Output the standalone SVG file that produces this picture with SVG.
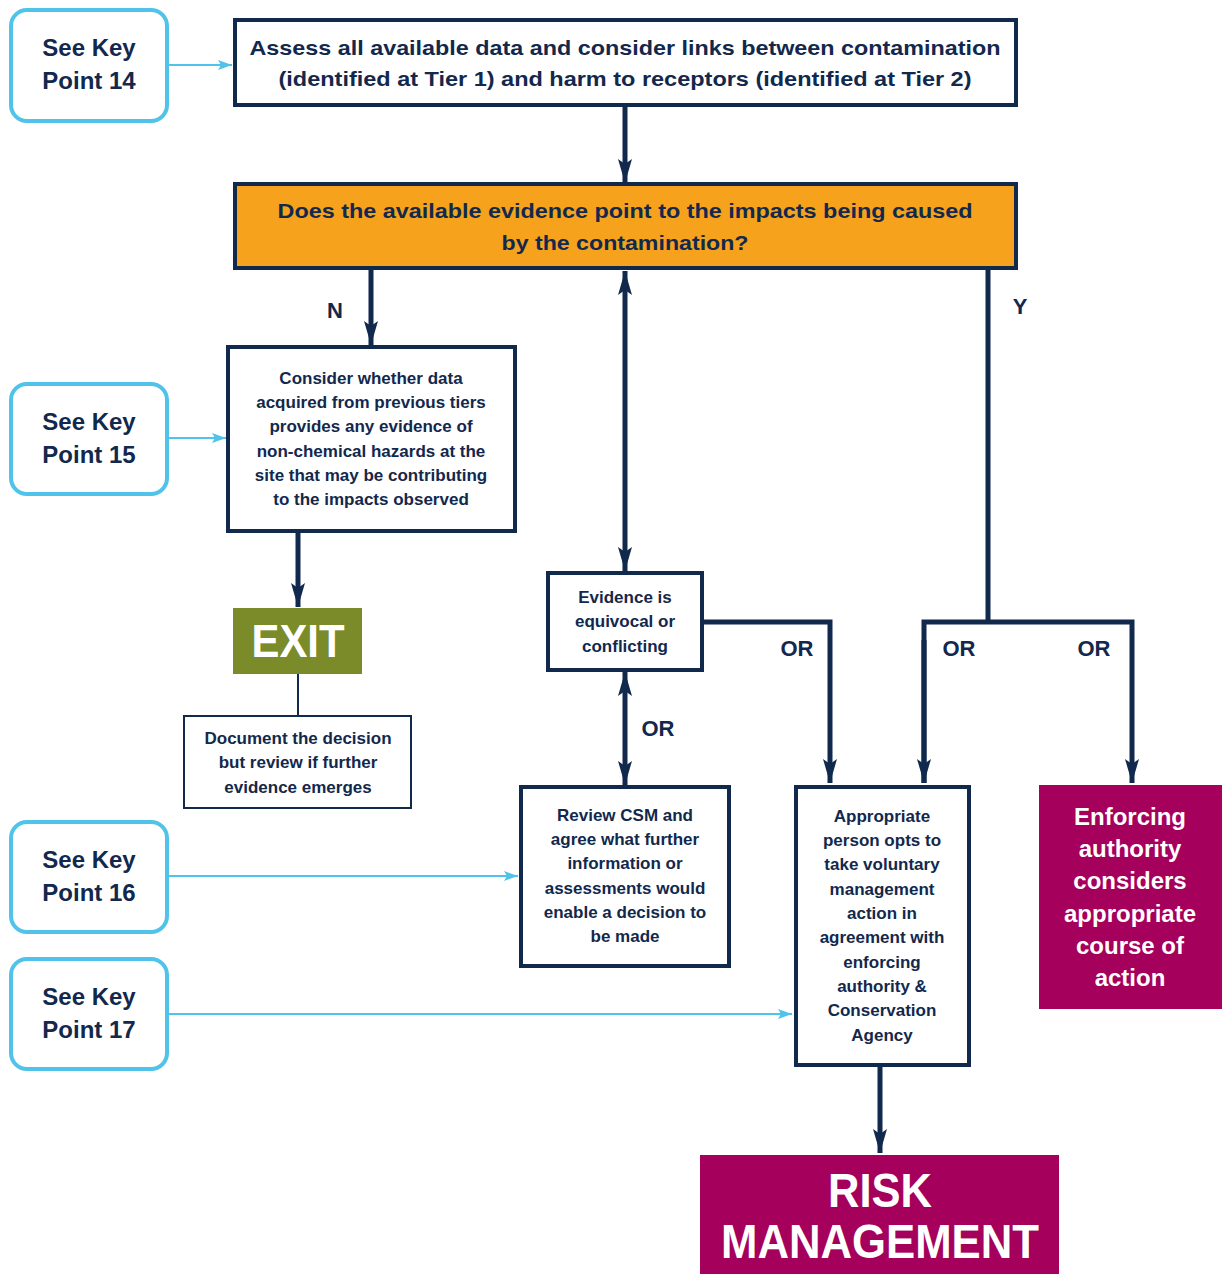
<svg xmlns="http://www.w3.org/2000/svg" width="1227" height="1274" viewBox="0 0 1227 1274">
<style>
text{font-family:"Liberation Sans","Noto Sans",sans-serif;font-weight:bold;text-anchor:middle;dominant-baseline:central;fill:#12284c}
.kp rect{fill:#fff;stroke:#4fc3e9;stroke-width:4}
.kp text{font-size:24px}
.box{fill:#fff;stroke:#10294d;stroke-width:4}
.thin{fill:#fff;stroke:#10294d;stroke-width:2}
.t22{font-size:21px}
.t18{font-size:17px}
.lbl{font-size:22px}
.w{fill:#fff}
.nav{stroke:#10294d;stroke-width:5;fill:none}
.cy{stroke:#4fc3e9;stroke-width:2;fill:none}
</style>
<defs>
<marker id="ah" viewBox="0 0 24 14" refX="24" refY="7" markerWidth="24" markerHeight="14" markerUnits="userSpaceOnUse" orient="auto-start-reverse">
<path d="M0,0 L24,7 L0,14 L5,7 z" fill="#10294d"/>
</marker>
<marker id="ac" viewBox="0 0 14 10" refX="14" refY="5" markerWidth="14" markerHeight="10" markerUnits="userSpaceOnUse" orient="auto">
<path d="M0,0 L14,5 L0,10 L3,5 z" fill="#4fc3e9"/>
</marker>
</defs>

<g id="connectors">
<line class="cy" x1="167" y1="65" x2="232" y2="65" marker-end="url(#ac)"/>
<line class="cy" x1="167" y1="438" x2="226" y2="438" marker-end="url(#ac)"/>
<line class="cy" x1="167" y1="876" x2="518" y2="876" marker-end="url(#ac)"/>
<line class="cy" x1="167" y1="1014" x2="792" y2="1014" marker-end="url(#ac)"/>
<line class="nav" x1="625" y1="106" x2="625" y2="183" marker-end="url(#ah)"/>
<line class="nav" x1="371" y1="268" x2="371" y2="345" marker-end="url(#ah)"/>
<line class="nav" x1="298" y1="532" x2="298" y2="607" marker-end="url(#ah)"/>
<line stroke="#10294d" stroke-width="2" x1="298" y1="674" x2="298" y2="716"/>
<line class="nav" x1="625" y1="271" x2="625" y2="571" marker-start="url(#ah)" marker-end="url(#ah)"/>
<line class="nav" x1="625" y1="672" x2="625" y2="785" marker-start="url(#ah)" marker-end="url(#ah)"/>
<polyline class="nav" points="702,622 830,622 830,783" marker-end="url(#ah)"/>
<line class="nav" x1="988" y1="268" x2="988" y2="622"/>
<polyline class="nav" points="924,783 924,622 1132,622 1132,783" marker-end="url(#ah)"/>
<line class="nav" x1="924" y1="640" x2="924" y2="783" marker-end="url(#ah)"/>
<line class="nav" x1="880" y1="1066" x2="880" y2="1153" marker-end="url(#ah)"/>
<text class="lbl" x="335" y="310">N</text>
<text class="lbl" x="1020" y="306">Y</text>
<text class="lbl" x="797" y="648">OR</text>
<text class="lbl" x="959" y="648">OR</text>
<text class="lbl" x="1094" y="648">OR</text>
<text class="lbl" x="658" y="728">OR</text>
</g>

<g id="kp14" class="kp"><rect x="11" y="10" width="156" height="111" rx="16"/><text x="89" y="47">See Key</text><text x="89" y="80">Point 14</text></g>
<g id="kp15" class="kp"><rect x="11" y="384" width="156" height="110" rx="16"/><text x="89" y="421">See Key</text><text x="89" y="454">Point 15</text></g>
<g id="kp16" class="kp"><rect x="11" y="822" width="156" height="110" rx="16"/><text x="89" y="859">See Key</text><text x="89" y="892">Point 16</text></g>
<g id="kp17" class="kp"><rect x="11" y="959" width="156" height="110" rx="16"/><text x="89" y="996">See Key</text><text x="89" y="1029">Point 17</text></g>

<g id="assess"><rect class="box" x="235" y="20" width="781" height="85"/>
<text class="t22" x="625" y="47" textLength="751" lengthAdjust="spacingAndGlyphs">Assess all available data and consider links between contamination</text>
<text class="t22" x="625" y="78" textLength="693" lengthAdjust="spacingAndGlyphs">(identified at Tier 1) and harm to receptors (identified at Tier 2)</text></g>

<g id="question"><rect x="235" y="184" width="781" height="84" fill="#f6a21d" stroke="#10294d" stroke-width="4"/>
<text class="t22" x="625" y="210" textLength="695" lengthAdjust="spacingAndGlyphs">Does the available evidence point to the impacts being caused</text>
<text class="t22" x="625" y="242" textLength="247" lengthAdjust="spacingAndGlyphs">by the contamination?</text></g>

<g id="consider"><rect class="box" x="228" y="347" width="287" height="184"/>
<text class="t18" x="371" y="378">Consider whether data</text>
<text class="t18" x="371" y="402">acquired from previous tiers</text>
<text class="t18" x="371" y="426">provides any evidence of</text>
<text class="t18" x="371" y="451">non-chemical hazards at the</text>
<text class="t18" x="371" y="475">site that may be contributing</text>
<text class="t18" x="371" y="499">to the impacts observed</text></g>

<g id="exit"><rect x="233" y="608" width="129" height="66" fill="#7b8b2a"/>
<text class="w" x="298" y="641" font-size="46" textLength="93" lengthAdjust="spacingAndGlyphs">EXIT</text></g>

<g id="document"><rect class="thin" x="184" y="716" width="227" height="92"/>
<text class="t18" x="298" y="738">Document the decision</text>
<text class="t18" x="298" y="762">but review if further</text>
<text class="t18" x="298" y="787">evidence emerges</text></g>

<g id="evidence"><rect class="box" x="548" y="573" width="154" height="97"/>
<text class="t18" x="625" y="597">Evidence is</text>
<text class="t18" x="625" y="621">equivocal or</text>
<text class="t18" x="625" y="646">conflicting</text></g>

<g id="review"><rect class="box" x="521" y="787" width="208" height="179"/>
<text class="t18" x="625" y="815">Review CSM and</text>
<text class="t18" x="625" y="839">agree what further</text>
<text class="t18" x="625" y="863">information or</text>
<text class="t18" x="625" y="888">assessments would</text>
<text class="t18" x="625" y="912">enable a decision to</text>
<text class="t18" x="625" y="936">be made</text></g>

<g id="appropriate"><rect class="box" x="796" y="787" width="173" height="278"/>
<text class="t18" x="882" y="816">Appropriate</text>
<text class="t18" x="882" y="840">person opts to</text>
<text class="t18" x="882" y="864">take voluntary</text>
<text class="t18" x="882" y="889">management</text>
<text class="t18" x="882" y="913">action in</text>
<text class="t18" x="882" y="937">agreement with</text>
<text class="t18" x="882" y="962">enforcing</text>
<text class="t18" x="882" y="986">authority &amp;</text>
<text class="t18" x="882" y="1010">Conservation</text>
<text class="t18" x="882" y="1035">Agency</text></g>

<g id="enforcing"><rect x="1039" y="785" width="183" height="224" fill="#a5005c"/>
<text class="w" font-size="24" x="1130" y="816">Enforcing</text>
<text class="w" font-size="24" x="1130" y="848">authority</text>
<text class="w" font-size="24" x="1130" y="880">considers</text>
<text class="w" font-size="24" x="1130" y="913">appropriate</text>
<text class="w" font-size="24" x="1130" y="945">course of</text>
<text class="w" font-size="24" x="1130" y="977">action</text></g>

<g id="risk"><rect x="700" y="1155" width="359" height="119" fill="#a5005c"/>
<text class="w" font-size="48" x="880" y="1190" textLength="104" lengthAdjust="spacingAndGlyphs">RISK</text>
<text class="w" font-size="48" x="880" y="1241" textLength="318" lengthAdjust="spacingAndGlyphs">MANAGEMENT</text></g>
</svg>
